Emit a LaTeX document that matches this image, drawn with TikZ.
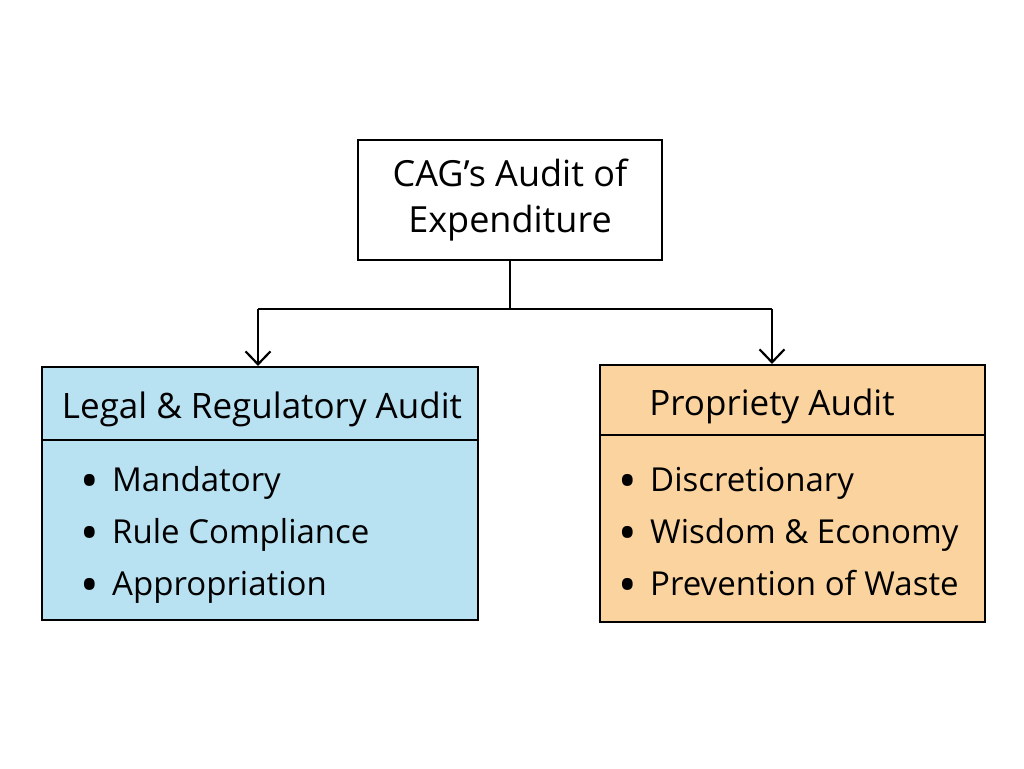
\documentclass[tikz,border=0pt]{standalone}
\usepackage{fontspec}
\setmainfont{Open Sans}
\usetikzlibrary{arrows.meta,calc}
\definecolor{lblue}{HTML}{B8E1F2}
\definecolor{lorange}{HTML}{FAD39F}
\newcommand{\bul}{\makebox[32pt][l]{\raisebox{-7pt}{\scalebox{1.5}{\textbullet}}}}
\tikzset{
  box/.style={draw=black, line width=2.2pt, rectangle, inner sep=0pt},
  conn/.style={draw=black, line width=2.2pt},
  arr/.style={conn, -{Straight Barb[length=13pt,width=25pt,line width=2.2pt]}},
  sep/.style={draw=black, line width=2.2pt},
  ttl/.style={font=\fontsize{35}{44}\selectfont, anchor=base, inner sep=0pt},
  itm/.style={font=\fontsize{33}{40}\selectfont, anchor=base west, inner sep=0pt},
}
\begin{document}
\begin{tikzpicture}[x=1pt,y=-1pt]
\useasboundingbox (0,0) rectangle (1024,768);
% top box
\node[box, minimum width=304pt, minimum height=120pt, align=center,
      font=\fontsize{36}{46}\selectfont] (top) at (510,200) {CAG's Audit of\\Expenditure};
% left box
\node[box, fill=lblue, minimum width=436pt, minimum height=253pt] (left) at (260,493.5) {};
\draw[sep] (left.west |- 0,440) coordinate (lsw) -- (left.east |- 0,440) coordinate (lse);
\node[ttl] (lt) at (262,418) {Legal \& Regulatory Audit};
\node[itm] (l1) at (80,491) {\bul Mandatory};
\node[itm] (l2) at (80,543) {\bul Rule Compliance};
\node[itm] (l3) at (80,595) {\bul Appropriation};
% right box
\node[box, fill=lorange, minimum width=385pt, minimum height=257pt] (right) at (792.5,493.5) {};
\draw[sep] (right.west |- 0,435) coordinate (rsw) -- (right.east |- 0,435) coordinate (rse);
\node[ttl] (rt) at (772,415) {Propriety Audit};
\node[itm] (r1) at (618,491) {\bul Discretionary};
\node[itm] (r2) at (618,543) {\bul Wisdom \& Economy};
\node[itm] (r3) at (618,595) {\bul Prevention of Waste};
% connectors
\coordinate (j) at (510,309);
\coordinate (la) at (258,309);
\coordinate (ra) at (772,309);
\draw[conn] (top.south) -- (j);
\draw[conn] (la) -- (ra);
\draw[arr] (la) -- (la |- left.north);
\draw[arr] (ra) -- (ra |- right.north);
\end{tikzpicture}
\end{document}
